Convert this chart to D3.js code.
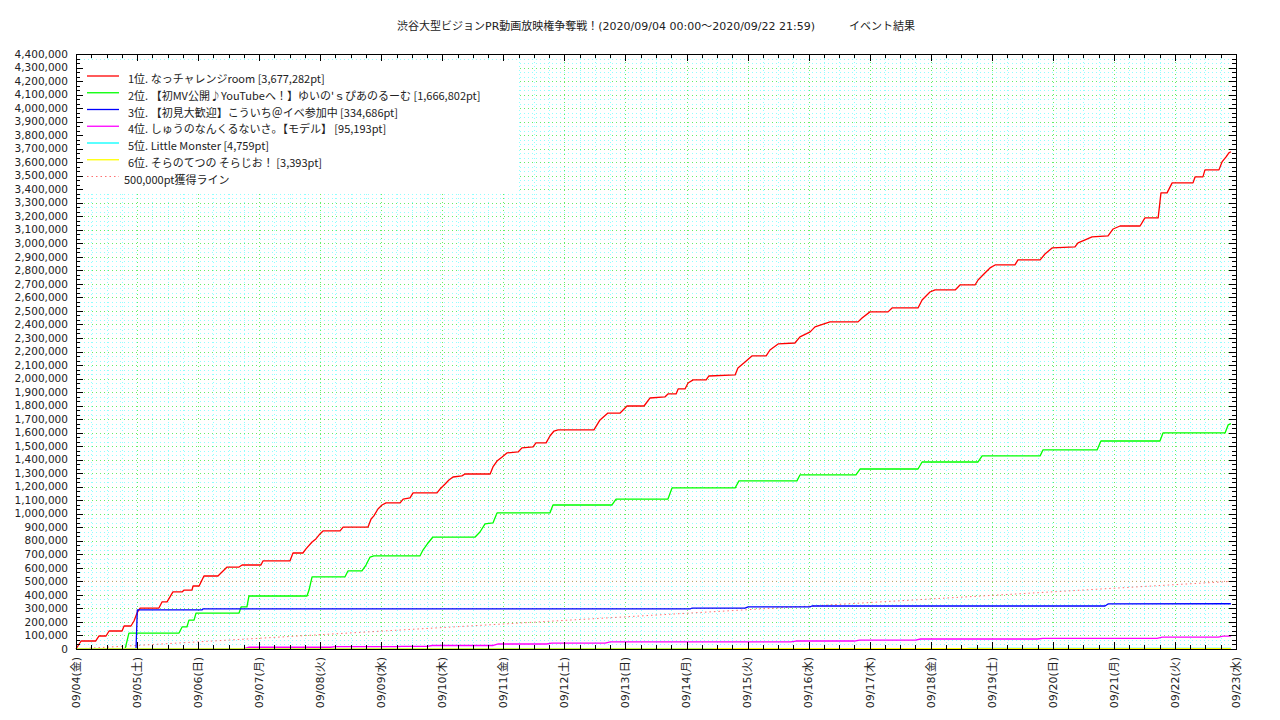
<!DOCTYPE html>
<html><head><meta charset="utf-8">
<script src="https://cdn.jsdelivr.net/npm/d3@7"></script>
<style>html,body{margin:0;padding:0;background:#fff;}svg{display:block;}</style>
</head><body>
<script>
// ---- data ----
const titleMain = "渋谷大型ビジョンPR動画放映権争奪戦！(2020/09/04 00:00〜2020/09/22 21:59)";
const titleSub = "イベント結果";
const xTickLabels = ["09/04(金)","09/05(土)","09/06(日)","09/07(月)","09/08(火)","09/09(水)","09/10(木)","09/11(金)","09/12(土)","09/13(日)","09/14(月)","09/15(火)","09/16(水)","09/17(木)","09/18(金)","09/19(土)","09/20(日)","09/21(月)","09/22(火)","09/23(水)"];
const yTickValues = d3.range(0, 4400001, 100000);
const seriesNames = ["1位. なっチャレンジroom [3,677,282pt]","2位. 【初MV公開♪YouTubeへ！】ゆいの'ｓぴあのるーむ [1,666,802pt]","3位. 【初見大歓迎】こういち＠イベ参加中 [334,686pt]","4位. しゅうのなんくるないさ。【モデル】 [95,193pt]","5位. Little Monster [4,759pt]","6位. そらのてつの そらじお！ [3,393pt]"];
const paceName = "500,000pt獲得ライン";
const seriesColors = ["#ff0000","#00ff00","#0000ff","#ff00ff","#00ffff","#ffff00"];
// [hours since 09/04 00:00, points in thousands]
const red = [[0,0],[2,59],[7.7,59],[9,96],[11.8,96],[13,133],[18.1,133],[18.9,170],[21.6,170],[22.8,207],[24,266],[25.2,303],[32.6,303],[33.8,348],[35.8,348],[38.1,422],[41.7,422],[42.5,436],[45.6,436],[46,466],[48.4,466],[50.3,540],[55.8,540],[57.4,569],[59.4,606],[64.1,606],[65.3,621],[72.7,621],[73.5,651],[84.1,651],[85.3,710],[89.2,710],[90.4,740],[92.8,791],[94.3,814],[95.9,851],[97.1,873],[103.8,873],[105,902],[114.8,902],[116,961],[117.1,984],[118.7,1035],[120.3,1065],[121.9,1080],[127.4,1080],[128.6,1109],[131.3,1117],[132.5,1154],[141.9,1154],[143.1,1183],[145.1,1220],[146.6,1250],[148.2,1272],[151.7,1280],[152.9,1294],[162.8,1294],[163.9,1346],[165.5,1390],[167.5,1420],[169.4,1450],[173.8,1457],[175.3,1487],[179.7,1494],[180.8,1524],[184.8,1524],[186.3,1575],[187.9,1612],[189.5,1620],[203.6,1620],[206,1694],[209.1,1745],[213.9,1745],[216.6,1797],[223.3,1797],[225.6,1856],[231.5,1864],[232.7,1886],[235.9,1886],[236.7,1923],[239.4,1923],[240.6,1967],[242.6,1990],[247.7,1990],[248.8,2019],[259.1,2027],[260.2,2078],[263,2123],[265.7,2167],[271.3,2167],[272.8,2211],[276,2256],[282.6,2263],[284.6,2308],[288.6,2345],[290.5,2382],[296.4,2419],[307.4,2419],[309,2448],[312.1,2493],[319.2,2493],[320.8,2522],[331,2522],[332.6,2581],[335.7,2640],[337.7,2655],[345.6,2655],[347.5,2692],[353.4,2692],[354.6,2729],[357.3,2781],[359.3,2818],[361.3,2840],[369.1,2840],[370.3,2877],[379,2877],[380.9,2921],[383.7,2966],[392.7,2973],[393.9,3003],[396.7,3025],[399.4,3047],[405.7,3055],[407.7,3106],[410.4,3128],[418.3,3128],[420.2,3188],[425.4,3188],[426.5,3373],[428.9,3373],[430.9,3447],[439.1,3447],[439.9,3491],[443,3491],[443.8,3543],[449.3,3543],[450.5,3602],[452.1,3639],[453.2,3669],[454,3677.282]];
const green = [[0,0],[19.3,0],[20.8,118],[40.5,118],[41.7,163],[43.6,163],[44.4,214],[46.4,214],[47.2,266],[64.1,266],[64.9,311],[67.2,311],[68,392],[90.8,392],[91.6,436],[92.8,533],[105.7,533],[106.9,577],[112.4,577],[114,621],[115.6,680],[117.1,688],[135.2,688],[136.4,732],[138.4,784],[140.3,828],[156.9,828],[158.8,865],[160.8,925],[163.9,932],[165.5,1006],[186.3,1006],[187.5,1065],[210.7,1065],[212.3,1109],[232.7,1109],[234.3,1191],[259.1,1191],[260.6,1243],[283.4,1243],[284.6,1287],[306.6,1287],[308.2,1331],[331,1331],[332.6,1383],[354.6,1383],[356.2,1428],[379,1428],[380.1,1472],[401.4,1472],[402.9,1538],[426.1,1538],[427.3,1598],[451.7,1598],[452.9,1657],[454,1666.802]];
const blue = [[0,0],[23.6,0],[24.1,289],[49.5,289],[49.9,296],[241.4,296],[242.2,303],[263,303],[264.2,311],[288.5,311],[289.3,318],[404.5,318],[405.7,333],[454,334.686]];
const magenta = [[0,0],[43,0],[45,3],[66,3],[68,13],[100,13],[102,17],[126,17],[128,20],[138,20],[140,26],[164,26],[166,37],[185,37],[187,44],[208,44],[210,52],[281,52],[283,59],[306,59],[308,66],[330,66],[332,74],[378,74],[380,79],[425,79],[427,88],[449,88],[451,95.193],[454,95.193]];
const cyan = [[0,0],[30,0],[31,1.5],[150,1.5],[151,2.5],[250,2.5],[251,3.5],[350,3.5],[351,4.759],[454,4.759]];
const yellow = [[0,0],[150,0],[151,1],[250,1],[251,2.2],[380,2.2],[381,3.393],[454,3.393]];
const pace = [[0,0],[454,500]];
const targetLine = [[0,500],[456,500]];

// ---- layout ----
const W = 1280, H = 720;
const m = {left: 76, right: 1236, top: 54, bottom: 649};
const t0 = Date.UTC(2020, 8, 4);
const x = d3.scaleUtc().domain([new Date(t0), new Date(Date.UTC(2020, 8, 23))]).range([m.left, m.right]);
const y = d3.scaleLinear().domain([0, 4400000]).range([m.bottom, m.top]);
const hx = h => x(new Date(t0 + h * 3600000));
const ky = v => y(v * 1000);

const svg = d3.select("body").append("svg").attr("width", W).attr("height", H);

// grid
const dayTicks = d3.utcDay.range(new Date(t0), new Date(Date.UTC(2020, 8, 23, 1)));
const minorX = d3.utcHour.every(6).range(new Date(t0), new Date(Date.UTC(2020, 8, 23, 1))).filter(d => d.getUTCHours() !== 0);
const minorY = [];
for (let v = 0; v < 4400000; v += 100000) { minorY.push(v + 100000/3, v + 200000/3); }
const grid = svg.append("g");
grid.selectAll(".mx").data(minorX).join("line")
  .attr("x1", d => Math.round(x(d)) + 0.5).attr("x2", d => Math.round(x(d)) + 0.5)
  .attr("y1", m.top).attr("y2", m.bottom)
  .attr("stroke", "#90ffff").attr("stroke-dasharray", "1,3");
grid.selectAll(".my").data(minorY).join("line")
  .attr("y1", d => Math.round(y(d)) + 0.5).attr("y2", d => Math.round(y(d)) + 0.5)
  .attr("x1", m.left).attr("x2", m.right)
  .attr("stroke", "#90ffff").attr("stroke-dasharray", "1,3");
grid.selectAll(".gx").data(dayTicks).join("line")
  .attr("x1", d => Math.round(x(d)) + 0.5).attr("x2", d => Math.round(x(d)) + 0.5)
  .attr("y1", m.top).attr("y2", m.bottom)
  .attr("stroke", "#66ee66").attr("stroke-dasharray", "1,3");
grid.selectAll(".gy").data(yTickValues).join("line")
  .attr("y1", d => Math.round(y(d)) + 0.5).attr("y2", d => Math.round(y(d)) + 0.5)
  .attr("x1", m.left).attr("x2", m.right)
  .attr("stroke", "#66ee66").attr("stroke-dasharray", "1,3");

const line = d3.line().x(d => hx(d[0])).y(d => ky(d[1]));

// target line 500,000 and pace line
svg.append("path").datum(targetLine).attr("d", line).attr("fill", "none")
  .attr("stroke", "#c89a6a").attr("stroke-width", 1).attr("stroke-dasharray", "1,3");
svg.append("path").datum(pace).attr("d", line).attr("fill", "none")
  .attr("stroke", "#ff7070").attr("stroke-width", 1).attr("stroke-dasharray", "1.5,3");

// legend box (opaque)
svg.append("rect").attr("x", 77).attr("y", 62).attr("width", 441).attr("height", 132).attr("fill", "#fff");

// series
const allSeries = [red, green, blue, magenta, cyan, yellow];
svg.append("g").selectAll("path").data(allSeries).join("path")
  .attr("d", line).attr("fill", "none")
  .attr("stroke", (d, i) => seriesColors[i]).attr("stroke-width", 1.3)
  .attr("stroke-linejoin", "round");

// legend
const lg = svg.append("g");
seriesNames.forEach((name, i) => {
  const yy = 76 + i * 16.75;
  lg.append("line").attr("x1", 87).attr("x2", 119).attr("y1", yy).attr("y2", yy)
    .attr("stroke", seriesColors[i]).attr("stroke-width", 1.3);
  lg.append("text").attr("x", 128).attr("y", yy + 2).attr("dominant-baseline", "central")
    .attr("font-family", "'Noto Sans CJK JP', sans-serif").attr("font-size", 11).attr("fill", "#222")
    .text(name);
});
{
  const yy = 76 + 6 * 16.75;
  lg.append("line").attr("x1", 87).attr("x2", 119).attr("y1", yy).attr("y2", yy)
    .attr("stroke", "#ff7070").attr("stroke-dasharray", "1.5,3");
  lg.append("text").attr("x", 124).attr("y", yy + 2).attr("dominant-baseline", "central")
    .attr("font-family", "'Noto Sans CJK JP', sans-serif").attr("font-size", 11).attr("fill", "#222")
    .text(paceName);
}

// border
svg.append("rect").attr("x", m.left + 0.5).attr("y", m.top + 0.5)
  .attr("width", m.right - m.left).attr("height", m.bottom - m.top)
  .attr("fill", "none").attr("stroke", "#000").attr("stroke-width", 1);

// ticks (inward, mirrored)
const tk = svg.append("g").attr("stroke", "#000").attr("stroke-width", 1);
dayTicks.forEach(d => {
  const xx = Math.round(x(d)) + 0.5;
  tk.append("line").attr("x1", xx).attr("x2", xx).attr("y1", m.bottom).attr("y2", m.bottom - 7);
  tk.append("line").attr("x1", xx).attr("x2", xx).attr("y1", m.top).attr("y2", m.top + 7);
});
minorX.forEach(d => {
  const xx = Math.round(x(d)) + 0.5;
  tk.append("line").attr("x1", xx).attr("x2", xx).attr("y1", m.bottom).attr("y2", m.bottom - 4);
  tk.append("line").attr("x1", xx).attr("x2", xx).attr("y1", m.top).attr("y2", m.top + 4);
});
yTickValues.forEach(v => {
  const yy = Math.round(y(v)) + 0.5;
  tk.append("line").attr("x1", m.left).attr("x2", m.left + 7).attr("y1", yy).attr("y2", yy);
  tk.append("line").attr("x1", m.right).attr("x2", m.right - 7).attr("y1", yy).attr("y2", yy);
});
minorY.forEach(v => {
  const yy = Math.round(y(v)) + 0.5;
  tk.append("line").attr("x1", m.left).attr("x2", m.left + 4).attr("y1", yy).attr("y2", yy);
  tk.append("line").attr("x1", m.right).attr("x2", m.right - 4).attr("y1", yy).attr("y2", yy);
});

// y labels
const fmt = d3.format(",");
svg.append("g").selectAll("text").data(yTickValues).join("text")
  .attr("x", 68).attr("y", d => y(d)).attr("dy", "0.35em")
  .attr("text-anchor", "end").attr("font-family", "'DejaVu Sans', sans-serif")
  .attr("font-size", 10.5).attr("fill", "#222").text(d => fmt(d));

// x labels (rotated)
svg.append("g").selectAll("text").data(dayTicks).join("text")
  .attr("transform", d => `translate(${x(d)},657) rotate(-90)`)
  .attr("text-anchor", "end").attr("dy", "0.35em")
  .attr("font-family", "'DejaVu Sans', 'Noto Sans CJK JP', sans-serif")
  .attr("font-size", 11).attr("fill", "#222").text((d, i) => xTickLabels[i]);

// title
svg.append("text").attr("x", 397).attr("y", 30)
  .attr("font-family", "'DejaVu Sans', 'Noto Sans CJK JP', sans-serif").attr("font-size", 11).attr("fill", "#222")
  .text(titleMain);
svg.append("text").attr("x", 849).attr("y", 30)
  .attr("font-family", "'Noto Sans CJK JP', sans-serif").attr("font-size", 11).attr("fill", "#222")
  .text(titleSub);
</script>
</body></html>
